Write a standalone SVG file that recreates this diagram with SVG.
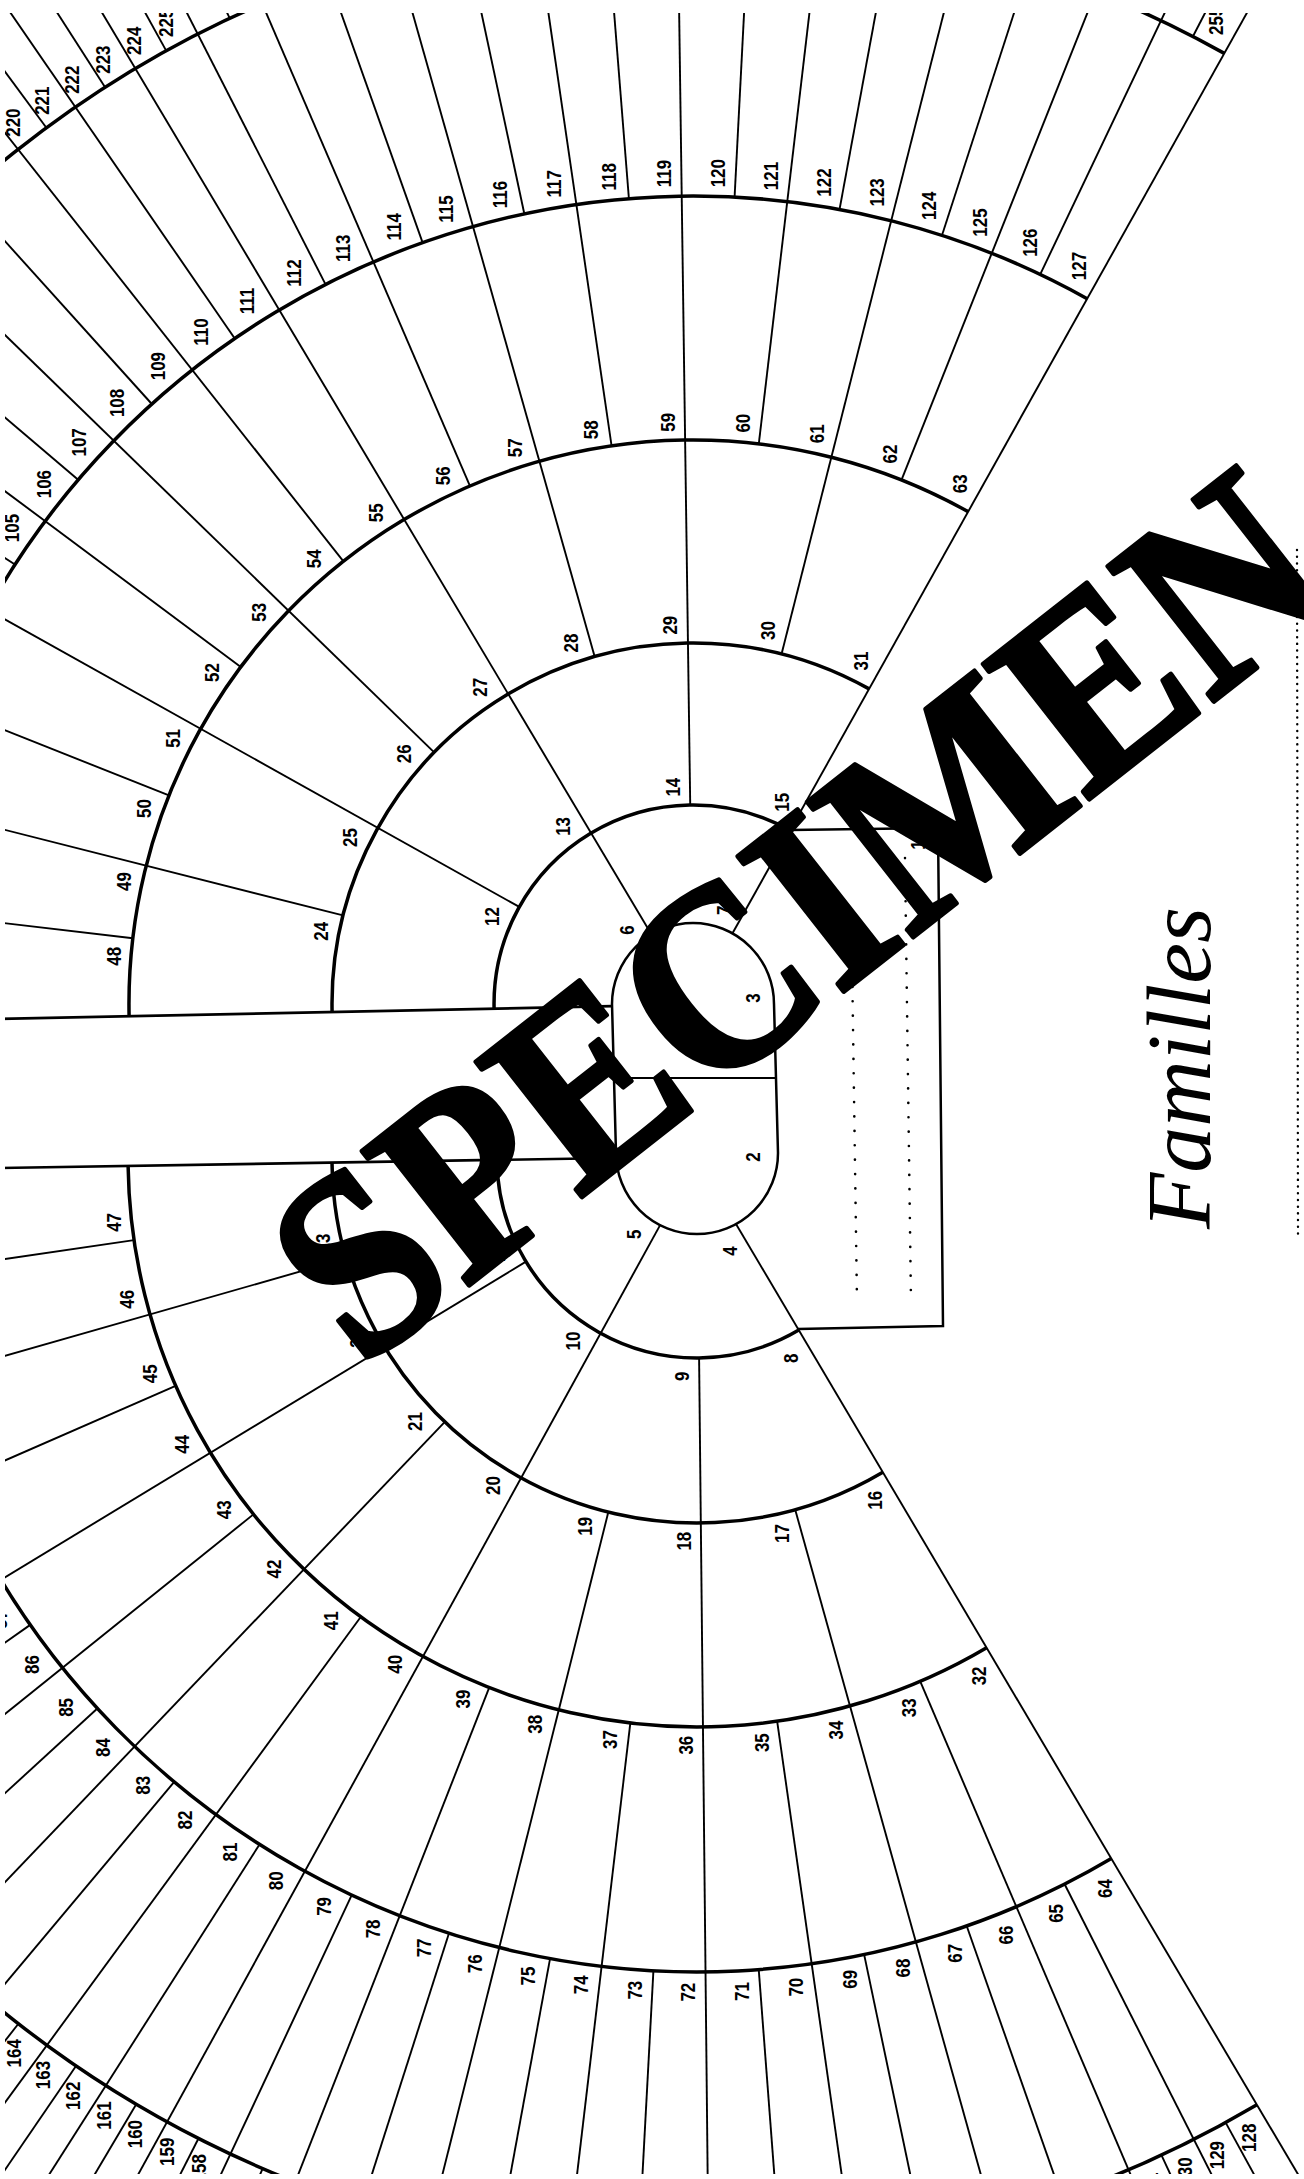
<svg xmlns="http://www.w3.org/2000/svg" width="1304" height="2179" viewBox="0 0 1304 2179">
<defs>
<style>
.rl{stroke:#000;stroke-width:1.9;fill:none}
.arc{stroke:#000;stroke-width:3.5;fill:none}
.bl{stroke:#000;stroke-width:2.7;fill:none}
.bx{stroke:#000;stroke-width:2.5;fill:none}
.dot{stroke:#000;stroke-width:2.6;stroke-linecap:round;stroke-dasharray:0.1 14.3;fill:none}
.dot2{stroke:#000;stroke-width:2.4;stroke-linecap:round;stroke-dasharray:0.1 6.6;fill:none}
.n{font-family:"Liberation Sans",Arial,sans-serif;font-size:20px;font-weight:bold;text-anchor:middle;fill:#000}
.fam{font-family:"Liberation Serif","Times New Roman",serif;font-style:italic;font-size:92px;fill:#000}
.wm{font-family:"Liberation Serif","Times New Roman",serif;font-weight:bold;font-size:262px;fill:#000;stroke:#000;stroke-width:5;stroke-linejoin:round}
</style>
</defs>
<rect width="1304" height="2179" fill="#fff"/>

<g id="connectors">
<path class="bl" d="M0,1018.9 L612,1006.2"/>
<path class="bl" d="M0,1168 L616,1158"/>
<path class="arc" d="M494.1,1008.7 A199 199 0 0 1 790.1,830.3"/>
<path class="arc" d="M332.1,1012 A361 361 0 0 1 869.1,688.9"/>
<path class="arc" d="M129.1,1016.2 A564 564 0 0 1 968.2,511.7"/>
<path class="arc" d="M-114.7,1025.2 A808 808 0 0 1 1087.2,298.7"/>
<path class="arc" d="M-250.1,459.5 A1089 1089 0 0 1 1224.3,53.4"/>
<path class="arc" d="M497,1159.9 A200 200 0 0 0 798.8,1330.1"/>
<path class="arc" d="M332,1162.6 A365 365 0 0 0 882.8,1472.2"/>
<path class="arc" d="M128.1,1165.9 A569 569 0 0 0 986.6,1647.7"/>
<path class="arc" d="M-116.9,1172.2 A814 814 0 0 0 1111.3,1858.6"/>
<path class="arc" d="M-255.6,1708 A1100 1100 0 0 0 1256.9,2104.8"/>

<g id="upper-rays" class="rl" transform="translate(693,1004)">
<line x1="81" x2="1700" transform="rotate(-60.8)"/>
<line x1="81" x2="1700" transform="rotate(-120.8)"/>
<line x1="199" x2="1700" transform="rotate(-150.8)"/>
<line x1="199" x2="1700" transform="rotate(-90.8)"/>
<line x1="361" x2="1700" transform="rotate(-165.8)"/>
<line x1="361" x2="1700" transform="rotate(-135.8)"/>
<line x1="361" x2="1700" transform="rotate(-105.8)"/>
<line x1="361" x2="1700" transform="rotate(-75.8)"/>
<line x1="564" x2="1700" transform="rotate(-173.3)"/>
<line x1="564" x2="1700" transform="rotate(-158.3)"/>
<line x1="564" x2="1700" transform="rotate(-143.3)"/>
<line x1="564" x2="1700" transform="rotate(-128.3)"/>
<line x1="564" x2="1700" transform="rotate(-113.3)"/>
<line x1="564" x2="1700" transform="rotate(-98.3)"/>
<line x1="564" x2="1700" transform="rotate(-83.3)"/>
<line x1="564" x2="1700" transform="rotate(-68.3)"/>
<line x1="808" x2="1700" transform="rotate(-147.05)"/>
<line x1="808" x2="1700" transform="rotate(-139.55)"/>
<line x1="808" x2="1700" transform="rotate(-132.05)"/>
<line x1="808" x2="1700" transform="rotate(-124.55)"/>
<line x1="808" x2="1700" transform="rotate(-117.05)"/>
<line x1="808" x2="1700" transform="rotate(-109.55)"/>
<line x1="808" x2="1700" transform="rotate(-102.05)"/>
<line x1="808" x2="1700" transform="rotate(-94.55)"/>
<line x1="808" x2="1700" transform="rotate(-87.05)"/>
<line x1="808" x2="1700" transform="rotate(-79.55)"/>
<line x1="808" x2="1700" transform="rotate(-72.05)"/>
<line x1="808" x2="1700" transform="rotate(-64.55)"/>
<line x1="1089" x2="1700" transform="rotate(-126.425)"/>
<line x1="1089" x2="1700" transform="rotate(-122.675)"/>
<line x1="1089" x2="1700" transform="rotate(-118.925)"/>
<line x1="1089" x2="1700" transform="rotate(-115.175)"/>
<line x1="1089" x2="1700" transform="rotate(-66.425)"/>
<line x1="1089" x2="1700" transform="rotate(-62.675)"/>
</g>

<g id="lower-rays" class="rl" transform="translate(697,1158)">
<line x1="76" x2="1700" transform="rotate(-300.6)"/>
<line x1="76" x2="1700" transform="rotate(-241.2)"/>
<line x1="200" x2="1700" transform="rotate(-211.21)"/>
<line x1="200" x2="1700" transform="rotate(-270.6)"/>
<line x1="365" x2="1700" transform="rotate(-195.96)"/>
<line x1="365" x2="1700" transform="rotate(-226.3)"/>
<line x1="365" x2="1700" transform="rotate(-255.94)"/>
<line x1="365" x2="1700" transform="rotate(-285.6)"/>
<line x1="569" x2="1700" transform="rotate(-188.3)"/>
<line x1="569" x2="1700" transform="rotate(-203.61)"/>
<line x1="569" x2="1700" transform="rotate(-218.78)"/>
<line x1="569" x2="1700" transform="rotate(-233.77)"/>
<line x1="569" x2="1700" transform="rotate(-248.58)"/>
<line x1="569" x2="1700" transform="rotate(-263.27)"/>
<line x1="569" x2="1700" transform="rotate(-278.1)"/>
<line x1="569" x2="1700" transform="rotate(-293.1)"/>
<line x1="814" x2="1700" transform="rotate(-215)"/>
<line x1="814" x2="1700" transform="rotate(-222.55)"/>
<line x1="814" x2="1700" transform="rotate(-230.04)"/>
<line x1="814" x2="1700" transform="rotate(-237.49)"/>
<line x1="814" x2="1700" transform="rotate(-244.9)"/>
<line x1="814" x2="1700" transform="rotate(-252.26)"/>
<line x1="814" x2="1700" transform="rotate(-259.6)"/>
<line x1="814" x2="1700" transform="rotate(-266.93)"/>
<line x1="814" x2="1700" transform="rotate(-274.35)"/>
<line x1="814" x2="1700" transform="rotate(-281.85)"/>
<line x1="814" x2="1700" transform="rotate(-289.35)"/>
<line x1="814" x2="1700" transform="rotate(-296.85)"/>
<line x1="1100" x2="1700" transform="rotate(-231.91)"/>
<line x1="1100" x2="1700" transform="rotate(-235.63)"/>
<line x1="1100" x2="1700" transform="rotate(-239.35)"/>
<line x1="1100" x2="1700" transform="rotate(-243.05)"/>
<line x1="1100" x2="1700" transform="rotate(-246.74)"/>
<line x1="1100" x2="1700" transform="rotate(-294.975)"/>
<line x1="1100" x2="1700" transform="rotate(-298.725)"/>
</g>
</g>

<g id="centre">
<path class="bx" d="M612,1004 A81 81 0 0 1 774,1004 L778,1153 A81 81 0 0 1 616,1153 Z"/>
<line class="rl" x1="614" y1="1078" x2="776" y2="1078"/>
<text class="n" transform="translate(753,998) rotate(-90) scale(.85,1)" y="7">3</text>
<text class="n" transform="translate(753,1157) rotate(-90) scale(.85,1)" y="7">2</text>
</g>

<g id="box1">
<path class="bx" d="M790,830 L938,828 L943,1326 L798,1329"/>
<line class="dot" x1="852" y1="958" x2="857" y2="1302"/>
<line class="dot" x1="905" y1="858" x2="911" y2="1302"/>
<text class="n" transform="translate(918,845) rotate(-90) scale(.85,1)" y="7">1</text>
</g>

<g id="upper-labels" class="n" transform="translate(693,1004)">
<text transform="rotate(-120.8) translate(97.3,-18.6) rotate(30.8) scale(.85,1)" y="7">6</text>
<text transform="rotate(-60.8) translate(97.1,-18.6) rotate(-29.2) scale(.85,1)" y="7">7</text>
<text transform="rotate(-150.8) translate(218.4,-21.8) rotate(60.8) scale(.85,1)" y="7">12</text>
<text transform="rotate(-120.8) translate(219.3,-21) rotate(30.8) scale(.85,1)" y="7">13</text>
<text transform="rotate(-90.8) translate(217.1,-17.3) rotate(0.8) scale(.85,1)" y="7">14</text>
<text transform="rotate(-60.8) translate(219.3,-20.9) rotate(-29.2) scale(.85,1)" y="7">15</text>
<text transform="rotate(-165.8) translate(378.8,-20.9) rotate(75.8) scale(.85,1)" y="7">24</text>
<text transform="rotate(-150.8) translate(380.4,-21.8) rotate(60.8) scale(.85,1)" y="7">25</text>
<text transform="rotate(-135.8) translate(381.3,-21.8) rotate(45.8) scale(.85,1)" y="7">26</text>
<text transform="rotate(-120.8) translate(381.3,-21) rotate(30.8) scale(.85,1)" y="7">27</text>
<text transform="rotate(-105.8) translate(380.6,-19.5) rotate(15.8) scale(.85,1)" y="7">28</text>
<text transform="rotate(-90.8) translate(379.1,-17.3) rotate(0.8) scale(.85,1)" y="7">29</text>
<text transform="rotate(-75.8) translate(380.4,-19.3) rotate(-14.2) scale(.85,1)" y="7">30</text>
<text transform="rotate(-60.8) translate(381.3,-20.9) rotate(-29.2) scale(.85,1)" y="7">31</text>
<text transform="rotate(-173.3) translate(580.8,-20.2) rotate(83.3) scale(.85,1)" y="7">48</text>
<text transform="rotate(-165.8) translate(581.8,-20.9) rotate(75.8) scale(.85,1)" y="7">49</text>
<text transform="rotate(-158.3) translate(582.7,-21.4) rotate(68.3) scale(.85,1)" y="7">50</text>
<text transform="rotate(-150.8) translate(583.4,-21.8) rotate(60.8) scale(.85,1)" y="7">51</text>
<text transform="rotate(-143.3) translate(583.9,-21.9) rotate(53.3) scale(.85,1)" y="7">52</text>
<text transform="rotate(-135.8) translate(584.3,-21.8) rotate(45.8) scale(.85,1)" y="7">53</text>
<text transform="rotate(-128.3) translate(584.4,-21.5) rotate(38.3) scale(.85,1)" y="7">54</text>
<text transform="rotate(-120.8) translate(584.3,-21) rotate(30.8) scale(.85,1)" y="7">55</text>
<text transform="rotate(-113.3) translate(584,-20.4) rotate(23.3) scale(.85,1)" y="7">56</text>
<text transform="rotate(-105.8) translate(583.6,-19.5) rotate(15.8) scale(.85,1)" y="7">57</text>
<text transform="rotate(-98.3) translate(582.9,-18.5) rotate(8.3) scale(.85,1)" y="7">58</text>
<text transform="rotate(-90.8) translate(582.1,-17.3) rotate(0.8) scale(.85,1)" y="7">59</text>
<text transform="rotate(-83.3) translate(582.7,-18.3) rotate(-6.7) scale(.85,1)" y="7">60</text>
<text transform="rotate(-75.8) translate(583.4,-19.3) rotate(-14.2) scale(.85,1)" y="7">61</text>
<text transform="rotate(-68.3) translate(583.9,-20.2) rotate(-21.7) scale(.85,1)" y="7">62</text>
<text transform="rotate(-60.8) translate(584.3,-20.9) rotate(-29.2) scale(.85,1)" y="7">63</text>
<text transform="rotate(-143.3) translate(830.8,-25.7) rotate(53.3) scale(.85,1)" y="7">105</text>
<text transform="rotate(-139.55) translate(831.2,-25.5) rotate(49.55) scale(.85,1)" y="7">106</text>
<text transform="rotate(-135.8) translate(831.5,-25.2) rotate(45.8) scale(.85,1)" y="7">107</text>
<text transform="rotate(-132.05) translate(831.9,-24.9) rotate(42.05) scale(.85,1)" y="7">108</text>
<text transform="rotate(-128.3) translate(832.1,-24.4) rotate(38.3) scale(.85,1)" y="7">109</text>
<text transform="rotate(-124.55) translate(832.3,-24) rotate(34.55) scale(.85,1)" y="7">110</text>
<text transform="rotate(-120.8) translate(832.4,-23.4) rotate(30.8) scale(.85,1)" y="7">111</text>
<text transform="rotate(-117.05) translate(832.4,-22.9) rotate(27.05) scale(.85,1)" y="7">112</text>
<text transform="rotate(-113.3) translate(832.4,-22.2) rotate(23.3) scale(.85,1)" y="7">113</text>
<text transform="rotate(-109.55) translate(832.3,-21.5) rotate(19.55) scale(.85,1)" y="7">114</text>
<text transform="rotate(-105.8) translate(832.1,-20.8) rotate(15.8) scale(.85,1)" y="7">115</text>
<text transform="rotate(-102.05) translate(831.9,-20) rotate(12.05) scale(.85,1)" y="7">116</text>
<text transform="rotate(-98.3) translate(831.6,-19.2) rotate(8.3) scale(.85,1)" y="7">117</text>
<text transform="rotate(-94.55) translate(831.2,-18.3) rotate(4.55) scale(.85,1)" y="7">118</text>
<text transform="rotate(-90.8) translate(830.8,-17.4) rotate(0.8) scale(.85,1)" y="7">119</text>
<text transform="rotate(-87.05) translate(831,-17.9) rotate(-2.95) scale(.85,1)" y="7">120</text>
<text transform="rotate(-83.3) translate(831.4,-18.8) rotate(-6.7) scale(.85,1)" y="7">121</text>
<text transform="rotate(-79.55) translate(831.7,-19.7) rotate(-10.45) scale(.85,1)" y="7">122</text>
<text transform="rotate(-75.8) translate(832,-20.5) rotate(-14.2) scale(.85,1)" y="7">123</text>
<text transform="rotate(-72.05) translate(832.2,-21.2) rotate(-17.95) scale(.85,1)" y="7">124</text>
<text transform="rotate(-68.3) translate(832.3,-21.9) rotate(-21.7) scale(.85,1)" y="7">125</text>
<text transform="rotate(-64.55) translate(832.4,-22.6) rotate(-25.45) scale(.85,1)" y="7">126</text>
<text transform="rotate(-60.8) translate(832.4,-23.2) rotate(-29.2) scale(.85,1)" y="7">127</text>
<text transform="rotate(-126.425) translate(1113.2,-24.2) rotate(36.425) scale(.85,1)" y="7">220</text>
<text transform="rotate(-124.55) translate(1113.3,-24) rotate(34.55) scale(.85,1)" y="7">221</text>
<text transform="rotate(-122.675) translate(1113.3,-23.7) rotate(32.675) scale(.85,1)" y="7">222</text>
<text transform="rotate(-120.8) translate(1113.4,-23.4) rotate(30.8) scale(.85,1)" y="7">223</text>
<text transform="rotate(-118.925) translate(1113.4,-23.2) rotate(28.925) scale(.85,1)" y="7">224</text>
<text transform="rotate(-117.05) translate(1113.4,-22.9) rotate(27.05) scale(.85,1)" y="7">225</text>
<text transform="rotate(-60.8) translate(1113.4,-23.2) rotate(-29.2) scale(.85,1)" y="7">255</text>
</g>

<g id="lower-labels" class="n" transform="translate(697,1158)">
<text transform="rotate(-300.6) translate(97.2,18.6) rotate(210.6) scale(.85,1)" y="7">4</text>
<text transform="rotate(-241.2) translate(97.2,18.6) rotate(151.2) scale(.85,1)" y="7">5</text>
<text transform="rotate(-300.6) translate(220.3,21) rotate(210.6) scale(.85,1)" y="7">8</text>
<text transform="rotate(-270.6) translate(218,17.3) rotate(180.6) scale(.85,1)" y="7">9</text>
<text transform="rotate(-241.2) translate(220.3,20.9) rotate(151.2) scale(.85,1)" y="7">10</text>
<text transform="rotate(-211.21) translate(219.5,21.8) rotate(121.21) scale(.85,1)" y="7">11</text>
<text transform="rotate(-300.6) translate(385.3,21) rotate(210.6) scale(.85,1)" y="7">16</text>
<text transform="rotate(-285.6) translate(384.5,19.5) rotate(195.6) scale(.85,1)" y="7">17</text>
<text transform="rotate(-270.6) translate(383,17.3) rotate(180.6) scale(.85,1)" y="7">18</text>
<text transform="rotate(-255.94) translate(384.5,19.3) rotate(165.94) scale(.85,1)" y="7">19</text>
<text transform="rotate(-241.2) translate(385.3,20.9) rotate(151.2) scale(.85,1)" y="7">20</text>
<text transform="rotate(-226.3) translate(385.3,21.8) rotate(136.3) scale(.85,1)" y="7">21</text>
<text transform="rotate(-211.21) translate(384.5,21.8) rotate(121.21) scale(.85,1)" y="7">22</text>
<text transform="rotate(-195.96) translate(383,21) rotate(105.96) scale(.85,1)" y="7">23</text>
<text transform="rotate(-300.6) translate(589.3,21) rotate(210.6) scale(.85,1)" y="7">32</text>
<text transform="rotate(-293.1) translate(589,20.3) rotate(203.1) scale(.85,1)" y="7">33</text>
<text transform="rotate(-285.6) translate(588.5,19.5) rotate(195.6) scale(.85,1)" y="7">34</text>
<text transform="rotate(-278.1) translate(587.9,18.5) rotate(188.1) scale(.85,1)" y="7">35</text>
<text transform="rotate(-270.6) translate(587,17.3) rotate(180.6) scale(.85,1)" y="7">36</text>
<text transform="rotate(-263.27) translate(587.7,18.3) rotate(173.27) scale(.85,1)" y="7">37</text>
<text transform="rotate(-255.94) translate(588.5,19.3) rotate(165.94) scale(.85,1)" y="7">38</text>
<text transform="rotate(-248.58) translate(589,20.2) rotate(158.58) scale(.85,1)" y="7">39</text>
<text transform="rotate(-241.2) translate(589.3,20.9) rotate(151.2) scale(.85,1)" y="7">40</text>
<text transform="rotate(-233.77) translate(589.4,21.4) rotate(143.77) scale(.85,1)" y="7">41</text>
<text transform="rotate(-226.3) translate(589.3,21.8) rotate(136.3) scale(.85,1)" y="7">42</text>
<text transform="rotate(-218.78) translate(589,21.9) rotate(128.78) scale(.85,1)" y="7">43</text>
<text transform="rotate(-211.21) translate(588.5,21.8) rotate(121.21) scale(.85,1)" y="7">44</text>
<text transform="rotate(-203.61) translate(587.8,21.5) rotate(113.61) scale(.85,1)" y="7">45</text>
<text transform="rotate(-195.96) translate(587,21) rotate(105.96) scale(.85,1)" y="7">46</text>
<text transform="rotate(-188.3) translate(586,20.4) rotate(98.3) scale(.85,1)" y="7">47</text>
<text transform="rotate(-300.6) translate(836.3,21) rotate(210.6) scale(.85,1)" y="7">64</text>
<text transform="rotate(-296.85) translate(836.2,20.7) rotate(206.85) scale(.85,1)" y="7">65</text>
<text transform="rotate(-293.1) translate(836,20.3) rotate(203.1) scale(.85,1)" y="7">66</text>
<text transform="rotate(-289.35) translate(835.8,19.9) rotate(199.35) scale(.85,1)" y="7">67</text>
<text transform="rotate(-285.6) translate(835.5,19.5) rotate(195.6) scale(.85,1)" y="7">68</text>
<text transform="rotate(-281.85) translate(835.2,19) rotate(191.85) scale(.85,1)" y="7">69</text>
<text transform="rotate(-278.1) translate(834.9,18.5) rotate(188.1) scale(.85,1)" y="7">70</text>
<text transform="rotate(-274.35) translate(834.5,17.9) rotate(184.35) scale(.85,1)" y="7">71</text>
<text transform="rotate(-270.6) translate(834,17.3) rotate(180.6) scale(.85,1)" y="7">72</text>
<text transform="rotate(-266.93) translate(834.3,17.7) rotate(176.93) scale(.85,1)" y="7">73</text>
<text transform="rotate(-263.27) translate(834.7,18.3) rotate(173.27) scale(.85,1)" y="7">74</text>
<text transform="rotate(-259.6) translate(835.1,18.8) rotate(169.6) scale(.85,1)" y="7">75</text>
<text transform="rotate(-255.94) translate(835.5,19.3) rotate(165.94) scale(.85,1)" y="7">76</text>
<text transform="rotate(-252.26) translate(835.7,19.8) rotate(162.26) scale(.85,1)" y="7">77</text>
<text transform="rotate(-248.58) translate(836,20.2) rotate(158.58) scale(.85,1)" y="7">78</text>
<text transform="rotate(-244.9) translate(836.1,20.6) rotate(154.9) scale(.85,1)" y="7">79</text>
<text transform="rotate(-241.2) translate(836.3,20.9) rotate(151.2) scale(.85,1)" y="7">80</text>
<text transform="rotate(-237.49) translate(836.4,21.2) rotate(147.49) scale(.85,1)" y="7">81</text>
<text transform="rotate(-233.77) translate(836.4,21.4) rotate(143.77) scale(.85,1)" y="7">82</text>
<text transform="rotate(-230.04) translate(836.4,21.6) rotate(140.04) scale(.85,1)" y="7">83</text>
<text transform="rotate(-226.3) translate(836.3,21.8) rotate(136.3) scale(.85,1)" y="7">84</text>
<text transform="rotate(-222.55) translate(836.2,21.8) rotate(132.55) scale(.85,1)" y="7">85</text>
<text transform="rotate(-218.78) translate(836,21.9) rotate(128.78) scale(.85,1)" y="7">86</text>
<text transform="rotate(-215) translate(835.8,21.9) rotate(125) scale(.85,1)" y="7">87</text>
<text transform="rotate(-300.6) translate(1124.4,23.4) rotate(210.6) scale(.85,1)" y="7">128</text>
<text transform="rotate(-298.725) translate(1124.4,23.1) rotate(208.725) scale(.85,1)" y="7">129</text>
<text transform="rotate(-296.85) translate(1124.4,22.8) rotate(206.85) scale(.85,1)" y="7">130</text>
<text transform="rotate(-294.975) translate(1124.4,22.5) rotate(204.975) scale(.85,1)" y="7">131</text>
<text transform="rotate(-244.9) translate(1126,22) rotate(154.9) scale(.85,1)" y="7">158</text>
<text transform="rotate(-243.05) translate(1126,22) rotate(153.05) scale(.85,1)" y="7">159</text>
<text transform="rotate(-241.2) translate(1126,22) rotate(151.2) scale(.85,1)" y="7">160</text>
<text transform="rotate(-239.35) translate(1126,22) rotate(149.35) scale(.85,1)" y="7">161</text>
<text transform="rotate(-237.49) translate(1126,22) rotate(147.49) scale(.85,1)" y="7">162</text>
<text transform="rotate(-235.63) translate(1126,22) rotate(145.63) scale(.85,1)" y="7">163</text>
<text transform="rotate(-233.77) translate(1126,22) rotate(143.77) scale(.85,1)" y="7">164</text>
</g>

<g id="title">
<line class="dot2" x1="1297" y1="550" x2="1298" y2="1236"/>
<text class="fam" transform="translate(1210,1229) rotate(-90)" textLength="322" lengthAdjust="spacingAndGlyphs">Familles</text>
</g>

<g id="margins" fill="#fff">
<rect x="0" y="0" width="1304" height="13"/>
<rect x="0" y="0" width="5" height="2179"/>
<rect x="0" y="2174" width="1304" height="5"/>
</g>

<g id="watermark">
<text class="wm" transform="translate(361,1370) rotate(-38.1)" textLength="1250" lengthAdjust="spacingAndGlyphs">SPECIMEN</text>
</g>
</svg>
